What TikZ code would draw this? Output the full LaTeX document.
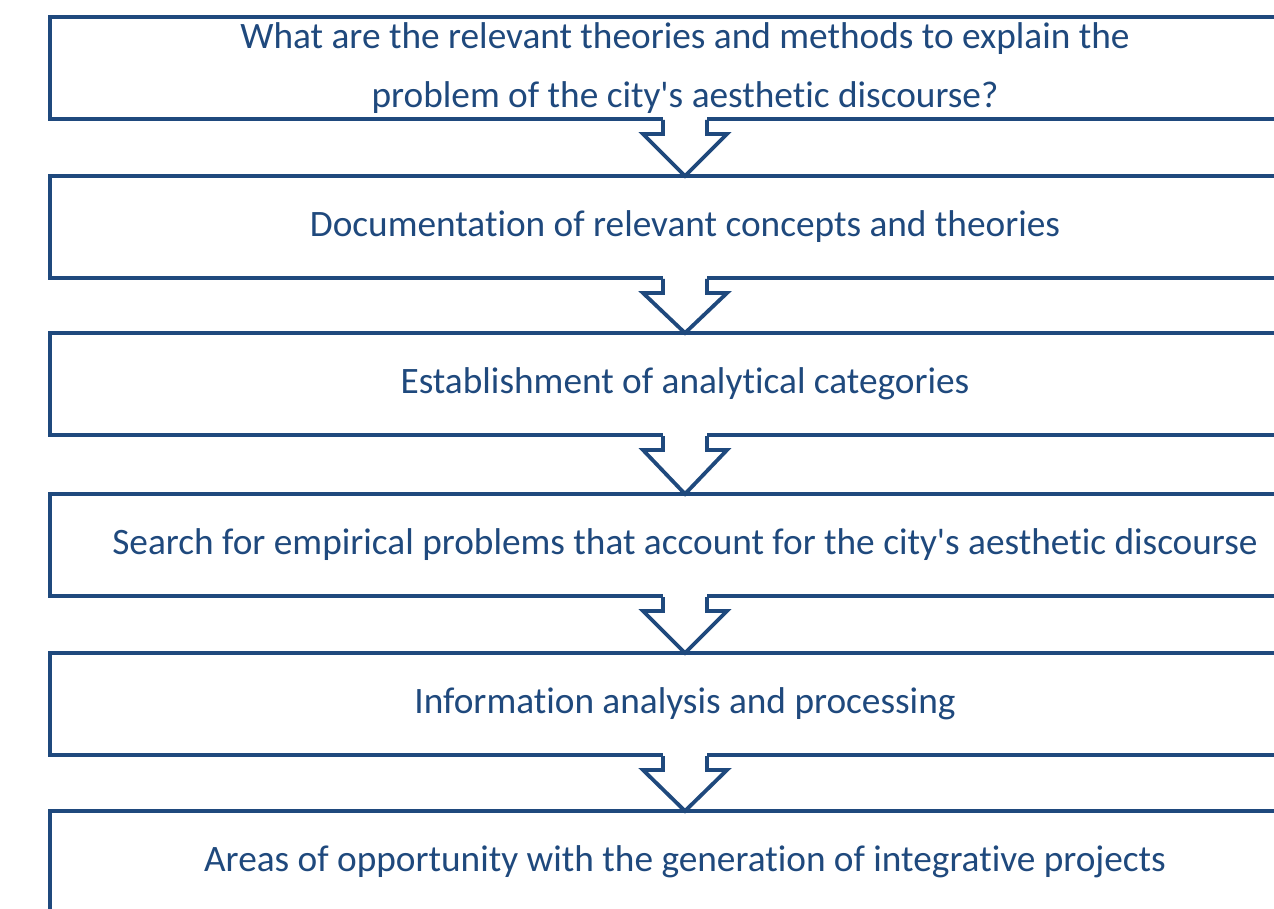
\documentclass[tikz,border=0pt]{standalone}
\usepackage{fontspec}
\setmainfont{Carlito}[Ligatures={TeXOff,NoCommon}]
\usetikzlibrary{calc}
\definecolor{dblue}{RGB}{31,73,125}
\tikzset{
  box/.style={draw=dblue, line width=3.8pt, fill=white, rectangle, outer sep=0pt,
    minimum width=1270pt, minimum height=102pt, inner sep=0pt,
    text=dblue, font=\fontsize{37.3}{59}\selectfont, align=center},
  blockarrow/.style={draw=dblue, line width=3.8pt, line join=miter, fill=white},
}
\newcommand{\flowarrow}[2]{%
  \fill[white] ([xshift=-22pt,yshift=3pt]#1.south) rectangle ([xshift=22pt,yshift=-3pt]#1.south);
  \filldraw[blockarrow] ([xshift=-22pt,yshift=-1pt]#1.south) -- ([xshift=-22pt,yshift=-15pt]#1.south)
    -- ([xshift=-42pt,yshift=-15pt]#1.south) -- (#2.north)
    -- ([xshift=42pt,yshift=-15pt]#1.south) -- ([xshift=22pt,yshift=-15pt]#1.south)
    -- ([xshift=22pt,yshift=-1pt]#1.south);
  \fill[white] ([xshift=-20.1pt,yshift=2pt]#1.south) rectangle ([xshift=20.1pt,yshift=-3pt]#1.south);
}
\begin{document}
\begin{tikzpicture}[x=1pt,y=-1pt]
\useasboundingbox (0,0) rectangle (1274,909);
\clip (0,0) rectangle (1274,909);
\node[box] (b1) at (685,68) {What are the relevant theories and methods to explain the\\problem of the city's aesthetic discourse?};
\node[box] (b2) at (685,227) {Documentation of relevant concepts and theories};
\node[box] (b3) at (685,384) {Establishment of analytical categories};
\node[box] (b4) at (685,545) {Search for empirical problems that account for the city's aesthetic discourse};
\node[box] (b5) at (685,704) {Information analysis and processing};
\node[box] (b6) at (685,862) {Areas of opportunity with the generation of integrative projects};
\flowarrow{b1}{b2}
\flowarrow{b2}{b3}
\flowarrow{b3}{b4}
\flowarrow{b4}{b5}
\flowarrow{b5}{b6}
\end{tikzpicture}
\end{document}
